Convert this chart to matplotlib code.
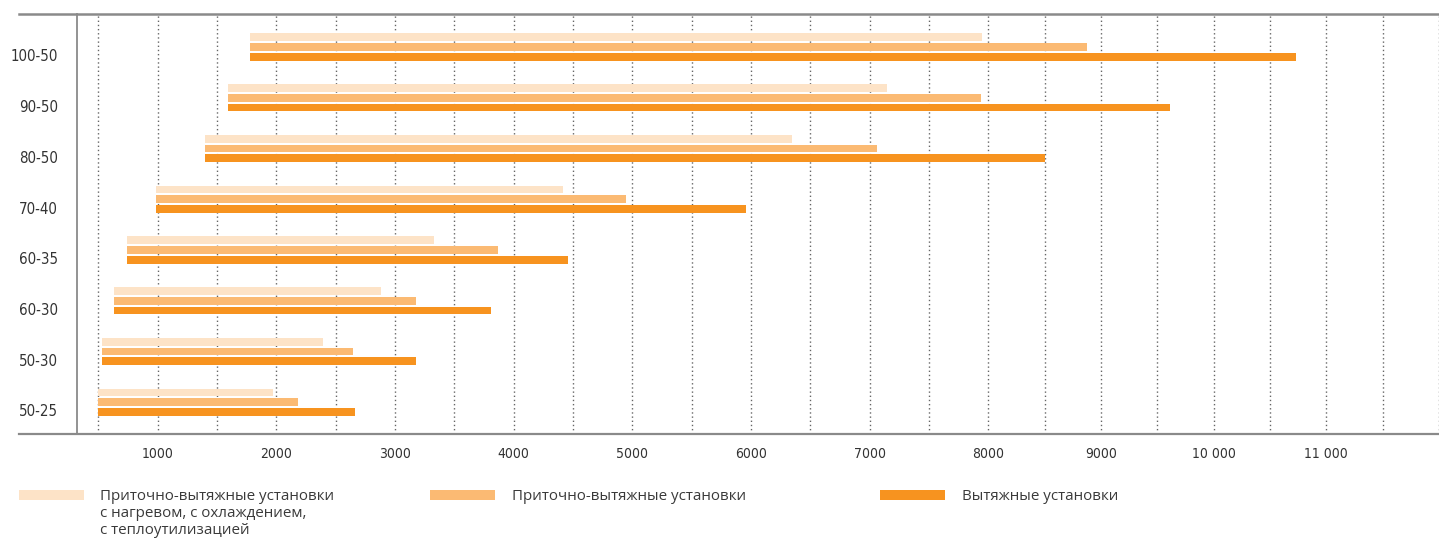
import numpy as np
import matplotlib
matplotlib.use("Agg")
import matplotlib.pyplot as plt
from matplotlib import font_manager
from matplotlib.patches import Rectangle

# ---------------- data (top to bottom as shown) ----------------
categories = ['100-50', '90-50', '80-50', '70-40', '60-35', '60-30', '50-30', '50-25']
starts     = [1780, 1590, 1400, 990, 740, 630, 530, 495]
ends_heat  = [7950, 7150, 6350, 4420, 3330, 2880, 2390, 1970]   # light
ends_supply = [8880, 7940, 7065, 4950, 3870, 3175, 2650, 2180]  # medium
ends_exhaust = [10730, 9610, 8500, 5960, 4455, 3810, 3175, 2660]  # dark
xtick_values = [1000, 2000, 3000, 4000, 5000, 6000, 7000, 8000, 9000, 10000, 11000]
xtick_labels = ['1000', '2000', '3000', '4000', '5000', '6000', '7000', '8000',
                '9000', '10 000', '11 000']
legend_labels = ['Приточно-вытяжные установки\nс нагревом, с охлаждением,\nс теплоутилизацией',
                 'Приточно-вытяжные установки',
                 'Вытяжные установки']

c_light, c_mid, c_dark = '#FDE3C7', '#FBBA73', '#F7931F'

# ---------------- fonts ----------------
names = {f.name for f in font_manager.fontManager.ttflist}
if 'Liberation Sans Narrow' in names:
    cond_kw = dict(family='Liberation Sans Narrow')
else:
    cond_kw = dict(family='DejaVu Sans', stretch='condensed')
leg_family = 'Open Sans' if 'Open Sans' in names else 'DejaVu Sans'

# ---------------- piecewise scale (the axis is compressed above 8000) ----------------
K = 112.8 / 118.75
def fwd(x):
    x = np.asarray(x, dtype=float)
    return np.where(x <= 8000, x, 8000 + (x - 8000) * K)
def inv(y):
    y = np.asarray(y, dtype=float)
    return np.where(y <= 8000, y, 8000 + (y - 8000) / K)

W, H = 1439, 540
fig = plt.figure(figsize=(W / 100, H / 100), dpi=100)
ax = fig.add_axes([77 / W, (540 - 434) / H, (1439 - 77) / W, (434 - 14) / H])
ax.set_xscale('function', functions=(fwd, inv))

n = len(categories)
ypos = np.arange(n)[::-1].astype(float)   # top category highest
d = 0.193
h = 0.152
starts_a = np.array(starts)
ax.barh(ypos + 2 * d, np.array(ends_heat) - starts_a, left=starts_a, height=h,
        color=c_light, zorder=3, linewidth=0)
ax.barh(ypos + d, np.array(ends_supply) - starts_a, left=starts_a, height=h,
        color=c_mid, zorder=3, linewidth=0)
ax.barh(ypos, np.array(ends_exhaust) - starts_a, left=starts_a, height=h,
        color=c_dark, zorder=3, linewidth=0)

ax.set_xlim(320, 12000)
ax.set_ylim(-0.434, 7.843)

# grid every 500
for gx in np.arange(500, 12001, 500):
    ax.axvline(gx, color='#666666', linewidth=1.0, linestyle=(0, (1, 2)), zorder=1)

ax.set_xticks(xtick_values)
ax.set_xticklabels(xtick_labels, color='#333333', fontsize=10, **cond_kw)
ax.set_yticks(ypos)
ax.set_yticklabels(categories, color='#333333', fontsize=10.8, **cond_kw)
ax.tick_params(axis='x', length=0, pad=9)
ax.tick_params(axis='y', length=0, pad=13.5)
for lbl in ax.get_yticklabels():
    lbl.set_verticalalignment('center')

for s in ax.spines.values():
    s.set_visible(False)
ax.spines['left'].set_visible(True)
ax.spines['left'].set_color('#8a8a8a')
ax.spines['left'].set_linewidth(1.3)

x0 = (19 - 77) / (1439 - 77)
ax.plot([x0, 1], [1, 1], transform=ax.transAxes, clip_on=False, color='#8a8a8a', linewidth=1.8, zorder=5)
ax.plot([x0, 1], [0, 0], transform=ax.transAxes, clip_on=False, color='#8a8a8a', linewidth=1.6, zorder=5)

# legend
patch_x = [19, 430, 880]
text_x = [100, 512, 962]
cols = [c_light, c_mid, c_dark]
for px, tx, col, lab in zip(patch_x, text_x, cols, legend_labels):
    fig.add_artist(Rectangle((px / W, (540 - 499.5) / H), 65 / W, 9.5 / H,
                             transform=fig.transFigure, color=col, linewidth=0))
    fig.text(tx / W, (540 - 488.5) / H, lab, ha='left', va='top', fontsize=10.9,
             family=leg_family, color='#3a3a3a', linespacing=1.2)

fig.savefig('out.png', dpi=100)
